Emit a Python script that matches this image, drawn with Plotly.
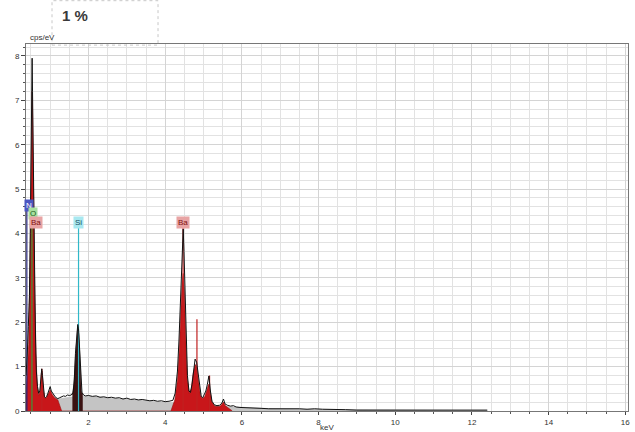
import plotly.graph_objects as go

# ---------------- data ----------------
spec_kev = [0.37,0.40,0.43,0.46,0.48,0.50,0.52,0.53,0.54,0.56,0.58,0.60,0.62,0.64,0.67,0.70,0.73,0.76,0.78,0.80,
            0.82,0.85,0.88,0.91,0.94,0.97,1.00,1.03,1.06,1.10,1.15,1.20,1.25,1.30,1.35,1.40,1.45,1.50,1.55,1.60,
            1.63,1.66,1.69,1.72,1.74,1.77,1.80,1.83,1.87,1.92,2.0,2.1,2.2,2.3,2.4,2.5,2.6,2.7,2.8,2.9,
            3.0,3.1,3.2,3.3,3.4,3.5,3.6,3.7,3.8,3.9,4.0,4.1,4.2,4.26,4.32,4.36,4.40,4.43,4.46,4.47,
            4.49,4.52,4.55,4.58,4.62,4.66,4.70,4.74,4.78,4.82,4.86,4.90,4.94,4.98,5.02,5.06,5.10,5.14,5.18,5.22,
            5.28,5.35,5.42,5.48,5.52,5.56,5.62,5.70,5.78,5.85,5.95,6.1,6.3,6.5,6.7,6.9,7.1,7.3,7.5,7.7,
            7.9,8.1,8.3,8.5,8.7,9.0,9.5,10.0,10.5,11.0,11.5,12.0,12.4]
spec_cps = [0.8,1.2,1.9,2.6,4.0,6.0,7.2,7.95,7.2,5.1,4.3,2.8,1.6,0.9,0.55,0.4,0.45,0.7,0.95,0.8,
            0.5,0.32,0.3,0.33,0.4,0.5,0.55,0.45,0.4,0.36,0.3,0.28,0.3,0.32,0.34,0.33,0.36,0.35,0.36,0.42,
            0.7,1.3,1.75,1.95,1.85,1.4,0.7,0.42,0.36,0.34,0.35,0.33,0.34,0.31,0.32,0.3,0.31,0.29,0.3,0.27,
            0.29,0.26,0.27,0.25,0.26,0.24,0.23,0.24,0.22,0.23,0.21,0.22,0.24,0.4,0.9,1.6,2.5,3.1,3.9,4.1,
            3.6,2.6,1.5,0.8,0.45,0.42,0.6,0.95,1.17,1.1,0.85,0.5,0.33,0.3,0.36,0.45,0.6,0.79,0.45,0.22,
            0.14,0.12,0.13,0.18,0.27,0.16,0.13,0.11,0.12,0.09,0.08,0.07,0.06,0.06,0.05,0.05,0.06,0.05,0.05,0.04,
            0.05,0.04,0.04,0.04,0.03,0.02,0.02,0.02,0.02,0.02,0.02,0.02,0.02]

bg_kev = [0.37,0.5,0.7,0.9,1.1,1.3,1.5,1.7,1.9,2.2,2.6,3.0,3.4,3.8,4.2,4.6,5.0,5.4,5.8,6.2,6.8,7.5,8.5,9.5,10.5,11.5,12.4]
bg_cps = [0.15,0.18,0.2,0.22,0.26,0.29,0.31,0.33,0.33,0.32,0.29,0.27,0.24,0.21,0.19,0.16,0.14,0.11,0.09,0.07,0.05,0.04,0.03,0.02,0.02,0.015,0.015]

fit_kev = [0.37,0.44,0.48,0.50,0.52,0.53,0.54,0.56,0.58,0.60,0.63,0.66,0.70,0.74,0.77,0.79,0.82,0.86,0.90,0.95,
           1.0,1.05,1.12,1.2,1.3,4.15,4.25,4.32,4.37,4.41,4.44,4.47,4.50,4.54,4.58,4.63,4.68,4.73,4.78,4.82,
           4.87,4.92,4.97,5.03,5.08,5.13,5.17,5.22,5.30,5.42,5.48,5.52,5.57,5.65,5.75]
fit_cps = [0.3,1.5,3.5,5.5,6.9,7.2,6.8,4.8,4.0,2.6,1.3,0.6,0.35,0.45,0.85,0.9,0.5,0.3,0.3,0.38,
           0.48,0.38,0.3,0.25,0.0,0.0,0.25,0.7,1.4,2.3,2.9,3.1,2.7,1.6,0.7,0.4,0.5,0.85,1.05,1.0,
           0.7,0.35,0.28,0.32,0.45,0.6,0.45,0.2,0.1,0.1,0.15,0.2,0.12,0.06,0.0]

si_kev = [1.58,1.62,1.66,1.69,1.72,1.75,1.78,1.81,1.85]
si_cps = [0.36,0.6,1.2,1.7,1.9,1.7,1.0,0.45,0.36]

# element marker lines: energy (keV), line top (cps/eV)
line_elements = ["N", "O", "Ba", "Si", "Ba", "Ba", "Ba"]
line_kev = [0.392, 0.525, 0.785, 1.740, 4.466, 4.828, 5.157]
line_top = [4.60, 4.45, 0.95, 4.20, 4.20, 2.07, 0.80]

# element labels: text, energy, height
label_text = ["N", "O", "Ba", "Si", "Ba"]
label_kev = [0.44, 0.545, 0.64, 1.74, 4.466]
label_cps = [4.63, 4.45, 4.24, 4.24, 4.25]

x_ticks = [2, 4, 6, 8, 10, 12, 14, 16]
y_ticks = [0, 1, 2, 3, 4, 5, 6, 7, 8]

# ---------------- styles ----------------
line_colors = {"N": "#23237a", "O": "#3a9a3a", "Si": "#30b8c8", "Ba": "#c02020"}
label_style = {"N": ("#4b55c0", "#ffffff"), "O": ("#a8e0a0", "#206020"),
               "Si": ("#a8e8f0", "#205060"), "Ba": ("#e8a4a4", "#801010")}
FONT = "Liberation Sans, Arial, sans-serif"

fig = go.Figure()

fig.add_trace(go.Scatter(x=bg_kev, y=bg_cps, mode="lines", fill="tozeroy",
                         line=dict(color="#b8b8b8", width=0.5), fillcolor="#c4c4c4",
                         hoverinfo="skip", showlegend=False))
fig.add_trace(go.Scatter(x=fit_kev, y=fit_cps, mode="lines", fill="tozeroy",
                         line=dict(color="#9a0c0c", width=0.6), fillcolor="#c8161a",
                         hoverinfo="skip", showlegend=False))
fig.add_trace(go.Scatter(x=si_kev, y=si_cps, mode="lines", fill="tozeroy",
                         line=dict(color="#301010", width=0.6), fillcolor="#3a1212",
                         hoverinfo="skip", showlegend=False))

for el, e, h in zip(line_elements, line_kev, line_top):
    fig.add_trace(go.Scatter(x=[e, e], y=[0, h], mode="lines",
                             line=dict(color=line_colors[el], width=1.2),
                             hoverinfo="skip", showlegend=False))

fig.add_trace(go.Scatter(x=spec_kev, y=spec_cps, mode="lines",
                         line=dict(color="#111111", width=1),
                         hoverinfo="skip", showlegend=False))

for t, e, h in zip(label_text, label_kev, label_cps):
    bg, fg = label_style[t]
    fig.add_annotation(x=e, y=h, xref="x", yref="y", text=t, showarrow=False,
                       font=dict(family=FONT, size=8, color=fg), bgcolor=bg,
                       borderpad=1, xanchor="center", yanchor="middle")

# header box "1 %"
fig.add_shape(type="rect", xref="paper", yref="paper", x0=0.0432, x1=0.2193, y0=0.997, y1=1.118,
              line=dict(color="#c8c8c8", width=1, dash="dot"), fillcolor="rgba(0,0,0,0)", layer="above")
fig.add_annotation(x=0.0565, y=1.079, xref="paper", yref="paper", text="<b>1 %</b>", showarrow=False,
                   xanchor="left", yanchor="middle", font=dict(family=FONT, size=15, color="#3a3a3a"))
fig.add_annotation(x=0.003, y=1.0, xref="paper", yref="paper", text="cps/eV", showarrow=False,
                   xanchor="left", yanchor="bottom", font=dict(family=FONT, size=8, color="#333333"))
fig.add_annotation(x=0.5, y=-0.046, xref="paper", yref="paper", text="keV", showarrow=False,
                   xanchor="center", yanchor="middle", font=dict(family=FONT, size=8, color="#333333"))

fig.update_xaxes(range=[0.37, 16.07], tickvals=x_ticks, ticktext=[str(v) for v in x_ticks],
                 automargin=False,
                 showgrid=True, gridcolor="#d4d4d4", gridwidth=1,
                 minor=dict(dtick=0.5, tick0=0, showgrid=True, gridcolor="#e2e2e2", ticks="outside",
                            ticklen=2, tickcolor="#555555"),
                 ticks="outside", ticklen=3, tickcolor="#444444",
                 showline=True, linecolor="#777777", linewidth=1, mirror=True,
                 tickfont=dict(family=FONT, size=8, color="#333333"), zeroline=False)
fig.update_yaxes(range=[0, 8.27], tickvals=y_ticks, ticktext=[str(v) for v in y_ticks],
                 automargin=False,
                 showgrid=True, gridcolor="#d4d4d4", gridwidth=1,
                 minor=dict(dtick=0.2, tick0=0, showgrid=True, gridcolor="#e2e2e2", ticks="outside",
                            ticklen=2, tickcolor="#555555"),
                 ticks="outside", ticklen=4, tickcolor="#444444",
                 showline=True, linecolor="#777777", linewidth=1, mirror=True,
                 tickfont=dict(family=FONT, size=8, color="#333333"), zeroline=False)

fig.update_layout(width=635, height=432, margin=dict(l=26, r=7, t=44, b=21, autoexpand=False),
                  paper_bgcolor="white", plot_bgcolor="white", showlegend=False)

fig.write_html("out.html", config={"displayModeBar": False},
               post_script="document.body.style.margin='0';document.body.style.overflow='hidden';")
